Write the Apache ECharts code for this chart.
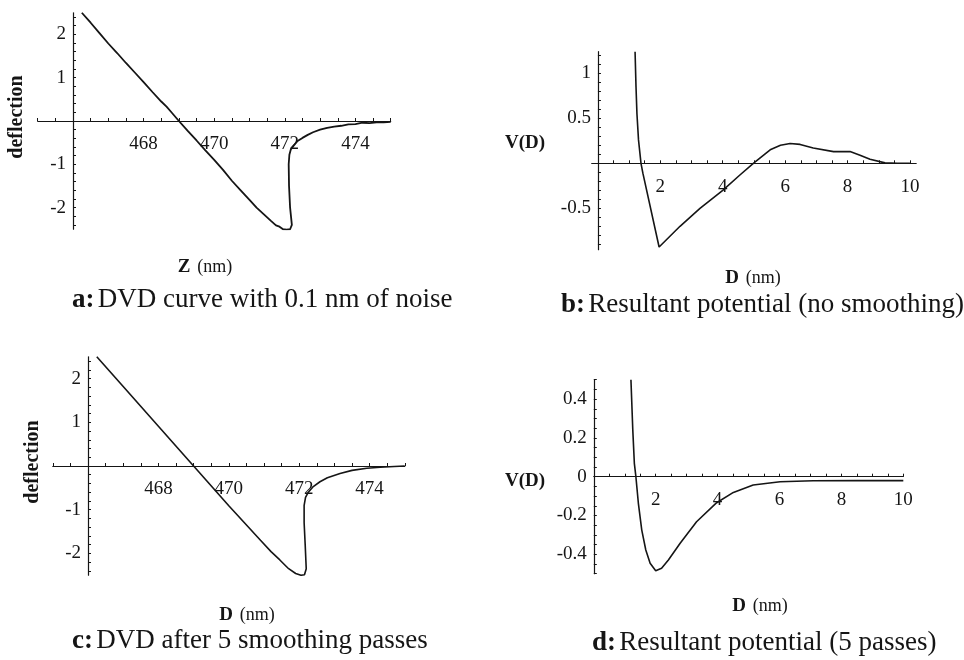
<!DOCTYPE html>
<html>
<head>
<meta charset="utf-8">
<script src="https://cdn.jsdelivr.net/npm/echarts@6/dist/echarts.min.js"></script>
<style>
html, body { margin: 0; padding: 0; background: #fff; }
#chart { width: 964px; height: 660px; }
</style>
</head>
<body>
<div id="chart"></div>
<script>
// a: DVD curve with 0.1 nm of noise
const zNoisy = [466.25, 466.5, 466.75, 467.0, 467.25, 467.5, 467.75, 468.0, 468.25, 468.5, 468.65, 468.8, 469.0,
  469.25, 469.5, 469.75, 470.0, 470.25, 470.5, 470.75, 471.0, 471.2, 471.4, 471.6, 471.75, 471.85, 471.95, 472.05, 472.15,
  472.2, 472.15, 472.12, 472.11, 472.13, 472.17, 472.24, 472.35, 472.5, 472.65, 472.8, 473.0, 473.2, 473.4, 473.6,
  473.8, 474.0, 474.2, 474.4, 474.6, 474.8, 475.0]
const defNoisy = [2.5, 2.27, 2.03, 1.79, 1.57, 1.34, 1.12, 0.9, 0.67, 0.45, 0.33, 0.19, 0.0,
  -0.23, -0.45, -0.68, -0.9, -1.13, -1.38, -1.6, -1.82, -2.0, -2.15, -2.3, -2.41, -2.44, -2.5, -2.51, -2.5,
  -2.4, -2.0, -1.5, -1.0, -0.78, -0.66, -0.58, -0.47, -0.39, -0.32, -0.26, -0.2, -0.16, -0.13, -0.11,
  -0.08, -0.07, -0.04, -0.05, -0.03, -0.03, -0.02]

// c: DVD after 5 smoothing passes
const zSmooth = [466.25, 467.0, 468.0, 469.0, 470.0, 470.9, 471.2, 471.45, 471.7, 471.9, 472.05, 472.15, 472.2,
  472.17, 472.14, 472.14, 472.18, 472.26, 472.4, 472.59, 472.8, 473.16, 473.5, 473.92, 474.3, 474.7, 475.0]
const defSmooth = [2.5, 1.82, 0.91, 0.0, -0.91, -1.7, -1.96, -2.15, -2.35, -2.46, -2.5, -2.49, -2.35,
  -1.8, -1.3, -0.9, -0.72, -0.6, -0.47, -0.36, -0.27, -0.17, -0.1, -0.05, -0.03, -0.01, 0.0]

// b: resultant potential (no smoothing)
const dNoSmooth = [1.19, 1.22, 1.25, 1.3, 1.38, 1.44, 1.96, 2.63, 3.27, 4.0, 4.55, 4.98, 5.52, 5.85, 6.16, 6.48,
  6.9, 7.55, 8.08, 8.4, 8.72, 9.2, 9.6, 10.0]
const vNoSmooth = [1.24, 0.85, 0.55, 0.26, 0.0, -0.11, -0.93, -0.7, -0.5, -0.3, -0.13, 0.0, 0.15, 0.2, 0.22, 0.21,
  0.17, 0.13, 0.13, 0.09, 0.044, 0.005, 0.0, 0.0]

// d: resultant potential (5 passes)
const dFiveP = [1.2, 1.26, 1.31, 1.36, 1.44, 1.55, 1.68, 1.82, 2.0, 2.19, 2.41, 2.79, 3.32, 3.97, 4.51, 5.15,
  6.02, 7.09, 8.5, 10.0]
const vFiveP = [0.5, 0.24, 0.069, 0.0, -0.137, -0.275, -0.378, -0.446, -0.485, -0.472, -0.429, -0.343, -0.232,
  -0.134, -0.081, -0.043, -0.026, -0.021, -0.02, -0.02]

// tick labels
const zLabels = [468, 470, 472, 474]
const defLabels = [-2, -1, 1, 2]
const dLabels = [2, 4, 6, 8, 10]
const vNoSmoothLabels = [-0.5, 0.5, 1]
const vFivePLabels = [-0.4, -0.2, 0, 0.2, 0.4]

const ink = '#151515'
const serif = 'Liberation Serif'

// panel boxes: [left, top, width, height], x range, y range, where the axes cross
const panels = [
  { box: [37.7, 12.75, 353, 216.5], x: [465, 475], y: [-2.5, 2.5], origin: [466, 0] },
  { box: [591.7, 51.7, 324.5, 198], x: [-0.2, 10.2], y: [-0.96, 1.24], origin: [0, 0] },
  { box: [52.8, 356.75, 352, 218.5], x: [465, 475], y: [-2.5, 2.5], origin: [466, 0] },
  { box: [593.8, 379.7, 309.5, 194], x: [0, 10], y: [-0.5, 0.5], origin: [0, 0] }
]

function steps(from, to, step) {
  let out = []
  for (let v = from; v <= to + 1e-9; v += step) out.push(Math.round(v * 1000) / 1000)
  return out
}

function zip(xs, ys) {
  return xs.map((x, i) => [x, ys[i]])
}

function axis(i, isY, labels, ticks) {
  const p = panels[i]
  const range = isY ? p.y : p.x
  // shift the axis from the grid edge to the crossing point (Mathematica style axes)
  const offset = isY
    ? -p.box[2] * (p.origin[0] - p.x[0]) / (p.x[1] - p.x[0])
    : -p.box[3] * (p.origin[1] - p.y[0]) / (p.y[1] - p.y[0])
  return {
    type: 'value',
    gridIndex: i,
    min: range[0],
    max: range[1],
    position: isY ? 'left' : 'bottom',
    offset: offset,
    axisLine: { show: true, onZero: false, lineStyle: { color: ink, width: 1.2 } },
    axisTick: { show: true, inside: true, length: 3, customValues: ticks, lineStyle: { color: ink, width: 1 } },
    axisLabel: {
      customValues: labels,
      color: ink,
      fontFamily: serif,
      fontSize: 19,
      margin: isY ? 7 : 14,
      formatter: v => String(v)
    },
    splitLine: { show: false }
  }
}

function curve(i, xs, ys, w) {
  return {
    type: 'line',
    xAxisIndex: i,
    yAxisIndex: i,
    data: zip(xs, ys),
    showSymbol: false,
    clip: true,
    lineStyle: { color: ink, width: w }
  }
}

const richAxis = {
  b: { fontFamily: serif, fontWeight: 'bold', fontSize: 19, fill: ink },
  n: { fontFamily: serif, fontSize: 18, fill: ink }
}
const richCap = {
  b: { fontFamily: serif, fontWeight: 'bold', fontSize: 27, fill: ink },
  n: { fontFamily: serif, fontSize: 27, fill: ink }
}

function richText(text, x, y, rich, align) {
  return {
    type: 'text',
    x: x,
    y: y,
    style: { text: text, rich: rich, align: align || 'center', verticalAlign: 'middle', fill: ink }
  }
}

function vertical(text, x, y) {
  return {
    type: 'text',
    x: x,
    y: y,
    rotation: Math.PI / 2,
    style: { text: text, fill: ink, font: 'bold 20px "' + serif + '"', align: 'center', verticalAlign: 'middle' }
  }
}

const chart = echarts.init(document.getElementById('chart'))
chart.setOption({
  backgroundColor: '#fff',
  animation: false,
  grid: panels.map(p => ({ left: p.box[0], top: p.box[1], width: p.box[2], height: p.box[3] })),
  xAxis: [
    axis(0, false, zLabels, steps(465, 475, 0.5)),
    axis(1, false, dLabels, steps(0, 10, 0.5)),
    axis(2, false, zLabels, steps(465, 475, 0.5)),
    axis(3, false, dLabels, steps(0, 10, 0.5))
  ],
  yAxis: [
    axis(0, true, defLabels, steps(-2.4, 2.4, 0.2)),
    axis(1, true, vNoSmoothLabels, steps(-0.9, 1.2, 0.1)),
    axis(2, true, defLabels, steps(-2.4, 2.4, 0.2)),
    axis(3, true, vFivePLabels, steps(-0.5, 0.5, 0.05))
  ],
  series: [
    curve(0, zNoisy, defNoisy, 1.8),
    curve(1, dNoSmooth, vNoSmooth, 1.6),
    curve(2, zSmooth, defSmooth, 1.6),
    curve(3, dFiveP, vFiveP, 1.6)
  ],
  graphic: [
    vertical('deflection', 17, 117),
    vertical('deflection', 33, 462),
    richText('{b|Z}  {n|(nm)}', 205, 267, richAxis),
    richText('{b|D}  {n|(nm)}', 753, 278, richAxis),
    richText('{b|D}  {n|(nm)}', 247, 615, richAxis),
    richText('{b|D}  {n|(nm)}', 760, 606, richAxis),
    richText('{b|V(D)}', 525, 143, richAxis),
    richText('{b|V(D)}', 525, 481, richAxis),
    richText('{b|a:} {n|DVD curve with 0.1 nm of noise}', 72, 300, richCap, 'left'),
    richText('{b|b:} {n|Resultant potential (no smoothing)}', 561, 305, richCap, 'left'),
    richText('{b|c:} {n|DVD after 5 smoothing passes}', 72, 641, richCap, 'left'),
    richText('{b|d:} {n|Resultant potential (5 passes)}', 592, 643, richCap, 'left')
  ]
})
</script>
</body>
</html>
